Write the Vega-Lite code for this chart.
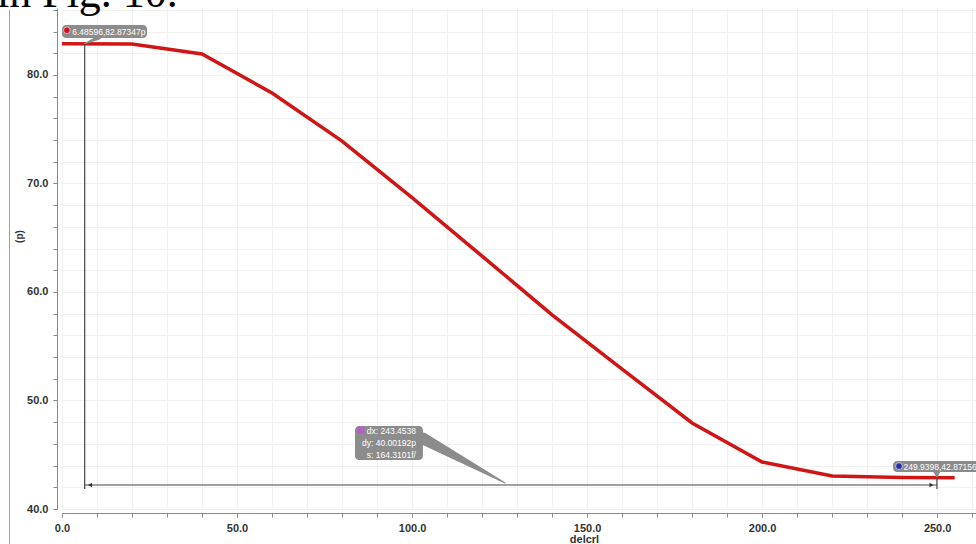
{
  "$schema": "https://vega.github.io/schema/vega-lite/v6.json",
  "width": 914,
  "height": 501,
  "autosize": {"type": "none"},
  "padding": {"left": 62, "top": 8, "right": 0, "bottom": 35},
  "background": "white",
  "config": {"view": {"stroke": null}, "font": "Liberation Sans"},
  "resolve": {"axis": {"x": "independent", "y": "independent"}},
  "datasets": {
    "curve": [
      {"x": 0, "y": 82.88}, {"x": 20, "y": 82.86}, {"x": 40, "y": 81.94}, {"x": 60, "y": 78.34},
      {"x": 80, "y": 73.9}, {"x": 100, "y": 68.7}, {"x": 120, "y": 63.3}, {"x": 140, "y": 57.9},
      {"x": 160, "y": 52.9}, {"x": 180, "y": 47.93}, {"x": 200, "y": 44.33}, {"x": 220, "y": 43.04},
      {"x": 240, "y": 42.9}, {"x": 255, "y": 42.87}
    ],
    "rules": [
      {"x": 6.486, "x2": 6.486, "y": 82.87, "y2": 41.85},
      {"x": 6.486, "x2": 249.94, "y": 42.21, "y2": 42.21},
      {"x": 249.94, "x2": 249.94, "y": 42.9, "y2": 41.85}
    ],
    "frame": [{"x": -15, "x2": -15, "y": 85.99, "y2": 36.7}],
    "arrowL": [{"x": 8.0, "y": 42.21}],
    "arrowR": [{"x": 248.4, "y": 42.21}],
    "boxes": [
      {"x": 0, "x2": 24.3, "y": 84.61, "y2": 83.41},
      {"x": 237.4, "x2": 262, "y": 44.42, "y2": 43.41},
      {"x": 83.7, "x2": 103.1, "y": 47.65, "y2": 44.52}
    ],
    "wedges": [
      {"id": "a", "x": 103.1, "y": 46.5, "w": 1},
      {"id": "a", "x": 126.6, "y": 42.4, "w": 0},
      {"id": "b", "x": 10.5, "y": 83.45, "w": 0.35},
      {"id": "b", "x": 6.49, "y": 82.87, "w": 0},
      {"id": "c", "x": 249.9, "y": 43.45, "w": 0.6},
      {"id": "c", "x": 249.94, "y": 42.95, "w": 0}
    ],
    "iconRed": [{"x": 1.4, "y": 84.12}],
    "iconBlue": [{"x": 239.1, "y": 43.95}],
    "iconPurple": [{"x": 85.4, "y": 47.28}],
    "ltexts": [
      {"x": 2.9, "y": 84.0, "label": "6.48596,82.87347p"},
      {"x": 240.4, "y": 43.9, "label": "249.9398,42.87156p"}
    ],
    "rtexts": [
      {"x": 101.1, "y": 47.2, "label": "dx: 243.4538"},
      {"x": 101.1, "y": 46.05, "label": "dy: 40.00192p"},
      {"x": 101.1, "y": 44.95, "label": "s: 164.3101f/"}
    ],
    "top": [{"x": 33.1, "y": 86.3, "label": "in Fig. 10."}]
  },
  "layer": [
    {
      "data": {"name": "frame"},
      "mark": {"type": "rule", "color": "#a0a0a0", "strokeWidth": 1},
      "encoding": {
        "x": {
          "field": "x", "type": "quantitative",
          "scale": {"domain": [0, 261.1], "nice": false, "zero": false},
          "axis": {
            "orient": "bottom", "title": null, "labels": false,
            "values": [0,10,20,30,40,50,60,70,80,90,100,110,120,130,140,150,160,170,180,190,200,210,220,230,240,250,260],
            "offset": 4, "domainColor": "#8a8a8a", "tickColor": "#8a8a8a", "tickSize": 4,
            "grid": true, "gridColor": "#f1f1f1"
          }
        },
        "x2": {"field": "x2"},
        "y": {
          "field": "y", "type": "quantitative",
          "scale": {"domain": [40, 86.17], "nice": false, "zero": false},
          "axis": {
            "orient": "left", "title": null, "labels": false,
            "values": [40,42,44,46,48,50,52,54,56,58,60,62,64,66,68,70,72,74,76,78,80,82,84,86],
            "offset": 5, "domainColor": "#8a8a8a", "tickColor": "#8a8a8a", "tickSize": 4,
            "grid": true, "gridColor": "#f1f1f1"
          }
        },
        "y2": {"field": "y2"}
      }
    },
    {
      "data": {"name": "curve"},
      "mark": {"type": "line", "color": "#d01515", "strokeWidth": 3.5},
      "encoding": {
        "x": {
          "field": "x", "type": "quantitative",
          "axis": {
            "orient": "bottom", "title": "delcrl",
            "values": [0, 50, 100, 150, 200, 250], "format": ".1f",
            "labelOverlap": false, "labelFlush": false,
            "offset": 4, "domain": false, "grid": false,
            "tickColor": "#8a8a8a", "tickSize": 4,
            "labelFontSize": 11, "labelFontWeight": "bold", "labelColor": "#333", "labelPadding": 5,
            "titleFontSize": 11, "titleFontWeight": "bold", "titleColor": "#333",
            "titleX": 522, "titleY": 29, "titleBaseline": "alphabetic"
          }
        },
        "y": {
          "field": "y", "type": "quantitative",
          "axis": {
            "orient": "left", "title": "(p)",
            "values": [40, 50, 60, 70, 80], "format": ".1f",
            "labelOverlap": false, "labelFlush": false,
            "offset": 5, "domain": false, "grid": false,
            "tickColor": "#8a8a8a", "tickSize": 4,
            "labelFontSize": 11, "labelFontWeight": "bold", "labelColor": "#333", "labelPadding": 5,
            "titleFontSize": 10, "titleFontWeight": "bold", "titleColor": "#333",
            "titleX": -38, "titleY": 228, "titleBaseline": "middle", "titleAlign": "center"
          }
        }
      }
    },
    {
      "data": {"name": "rules"},
      "mark": {"type": "rule", "color": "#444", "strokeWidth": 1.2},
      "encoding": {
        "x": {"field": "x", "type": "quantitative", "axis": null},
        "x2": {"field": "x2"},
        "y": {"field": "y", "type": "quantitative", "axis": null},
        "y2": {"field": "y2"}
      }
    },
    {
      "data": {"name": "arrowL"},
      "mark": {"type": "point", "filled": true, "color": "#333", "size": 22, "opacity": 1, "shape": "triangle-left"},
      "encoding": {
        "x": {"field": "x", "type": "quantitative", "axis": null},
        "y": {"field": "y", "type": "quantitative", "axis": null}
      }
    },
    {
      "data": {"name": "arrowR"},
      "mark": {"type": "point", "filled": true, "color": "#333", "size": 22, "opacity": 1, "shape": "triangle-right"},
      "encoding": {
        "x": {"field": "x", "type": "quantitative", "axis": null},
        "y": {"field": "y", "type": "quantitative", "axis": null}
      }
    },
    {
      "data": {"name": "wedges"},
      "mark": {"type": "trail", "color": "#8c8c8c"},
      "encoding": {
        "x": {"field": "x", "type": "quantitative", "axis": null},
        "y": {"field": "y", "type": "quantitative", "axis": null},
        "detail": {"field": "id", "type": "nominal"},
        "size": {"field": "w", "type": "quantitative", "scale": {"domain": [0, 1], "range": [0, 12]}, "legend": null}
      }
    },
    {
      "data": {"name": "boxes"},
      "mark": {"type": "rect", "color": "#8c8c8c", "cornerRadius": 4, "opacity": 1},
      "encoding": {
        "x": {"field": "x", "type": "quantitative", "axis": null},
        "x2": {"field": "x2"},
        "y": {"field": "y", "type": "quantitative", "axis": null},
        "y2": {"field": "y2"}
      }
    },
    {
      "data": {"name": "iconRed"},
      "mark": {"type": "point", "filled": true, "size": 45, "opacity": 1, "shape": "circle", "color": "#d4141c", "stroke": "white", "strokeWidth": 0.6},
      "encoding": {
        "x": {"field": "x", "type": "quantitative", "axis": null},
        "y": {"field": "y", "type": "quantitative", "axis": null}
      }
    },
    {
      "data": {"name": "iconBlue"},
      "mark": {"type": "point", "filled": true, "size": 45, "opacity": 1, "shape": "circle", "color": "#2530a8", "stroke": "white", "strokeWidth": 0.6},
      "encoding": {
        "x": {"field": "x", "type": "quantitative", "axis": null},
        "y": {"field": "y", "type": "quantitative", "axis": null}
      }
    },
    {
      "data": {"name": "iconPurple"},
      "mark": {"type": "point", "filled": true, "size": 45, "opacity": 1, "shape": "square", "color": "#b85cc8"},
      "encoding": {
        "x": {"field": "x", "type": "quantitative", "axis": null},
        "y": {"field": "y", "type": "quantitative", "axis": null}
      }
    },
    {
      "data": {"name": "ltexts"},
      "mark": {"type": "text", "color": "white", "fontSize": 8.5, "align": "left", "baseline": "middle"},
      "encoding": {
        "x": {"field": "x", "type": "quantitative", "axis": null},
        "y": {"field": "y", "type": "quantitative", "axis": null},
        "text": {"field": "label"}
      }
    },
    {
      "data": {"name": "rtexts"},
      "mark": {"type": "text", "color": "white", "fontSize": 8.5, "align": "right", "baseline": "middle"},
      "encoding": {
        "x": {"field": "x", "type": "quantitative", "axis": null},
        "y": {"field": "y", "type": "quantitative", "axis": null},
        "text": {"field": "label"}
      }
    },
    {
      "data": {"name": "top"},
      "mark": {"type": "text", "color": "black", "font": "Liberation Serif", "fontSize": 44, "align": "right", "baseline": "alphabetic"},
      "encoding": {
        "x": {"field": "x", "type": "quantitative", "axis": null},
        "y": {"field": "y", "type": "quantitative", "axis": null},
        "text": {"field": "label"}
      }
    }
  ]
}
